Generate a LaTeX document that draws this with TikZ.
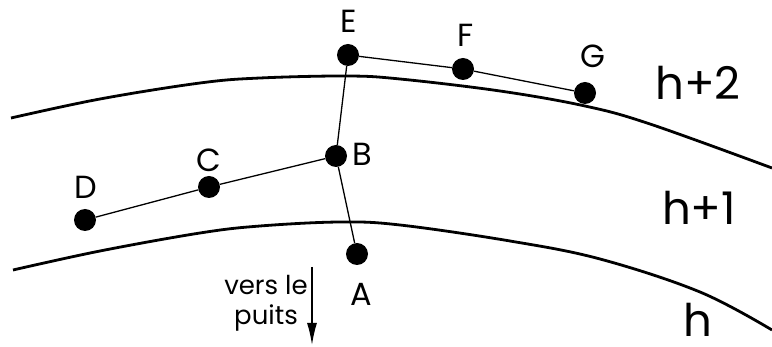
\documentclass[tikz,border=0pt]{standalone}
\usepackage{fontspec}
\setmainfont{Poppins}
\usetikzlibrary{arrows.meta}
\begin{document}
\begin{tikzpicture}[x=1pt,y=-1pt,
  dot/.style={circle,fill=black,inner sep=0pt,minimum size=22pt},
  link/.style={line width=1.3pt},
  layer/.style={line width=2.8pt},
  lbl/.style={inner sep=0pt,font=\fontsize{32}{32}\selectfont},
  hlbl/.style={inner sep=0pt,anchor=base,font=\fontsize{45}{45}\selectfont},
  note/.style={inner sep=0pt,align=center,font=\fontsize{26}{30}\selectfont}]
\useasboundingbox (0,0) rectangle (772,347);
% layer boundaries
\draw[layer] plot[smooth,tension=0.6] coordinates {(11,118) (100,99) (200,83) (260,78) (347,76) (400,79) (500,91) (585,106) (650,124) (772,168)};
\draw[layer] plot[smooth,tension=0.6] coordinates {(13,270) (100,251) (200,233) (260,226) (340,222) (400,225) (510,241) (600,259) (700,292) (772,330)};
% points
\node[dot] (E) at (348,55) {};
\node[dot] (F) at (463,69) {};
\node[dot] (G) at (585,93) {};
\node[dot] (B) at (336,156) {};
\node[dot] (C) at (209,187) {};
\node[dot] (D) at (85,220) {};
\node[dot] (A) at (357,254) {};
\draw[link] (E) -- (F) -- (G);
\draw[link] (E) -- (B);
\draw[link] (B) -- (C) -- (D);
\draw[link] (B) -- (A);
% labels
\node[lbl] (lE) at (349,21) {E};
\node[lbl] (lF) at (466,35) {F};
\node[lbl] (lG) at (593,56) {G};
\node[lbl] (lB) at (362,154) {B};
\node[lbl] (lC) at (209,160) {C};
\node[lbl] (lD) at (86,187) {D};
\node[lbl] (lA) at (361,294) {A};
\node[hlbl] (h2) at (698,100) {h+2};
\node[hlbl] (h1) at (699,225) {h+1};
\node[hlbl] (h0) at (698,337) {h};
% direction of the well
\node[note] (vers) at (266,303) {vers le\\puits};
\coordinate (arrS) at (312,267);
\coordinate (arrE) at (312,345);
\draw[line width=1.5pt,-{Latex[length=22pt,width=10pt]}] (arrS) -- (arrE);
\end{tikzpicture}
\end{document}
